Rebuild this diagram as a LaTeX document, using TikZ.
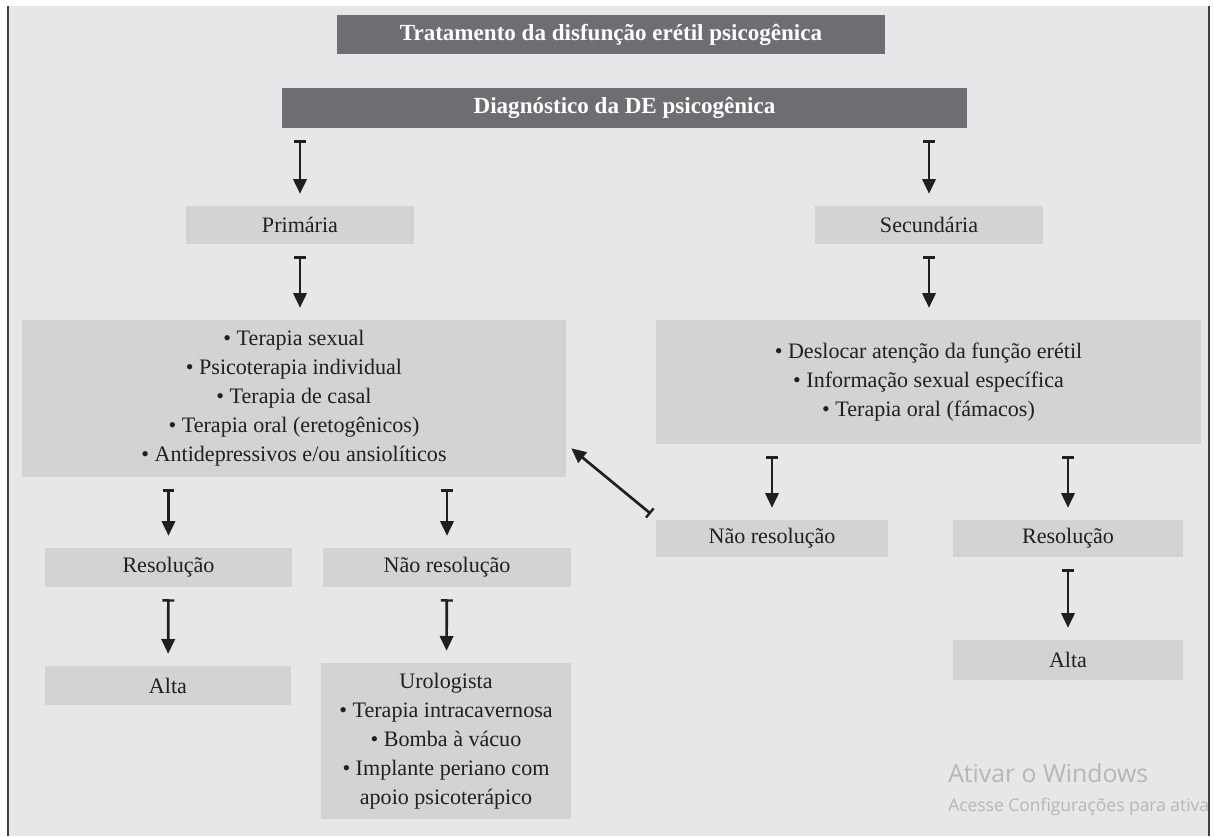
\documentclass[tikz,border=0pt]{standalone}
\usepackage{fontspec}
\setmainfont{Liberation Serif}
\newfontfamily\winfont{Open Sans}
\usetikzlibrary{arrows.meta}

\definecolor{fundo}{HTML}{E6E7E8}
\definecolor{caixa}{HTML}{D1D3D4}
\definecolor{escuro}{HTML}{6D6E71}
\definecolor{texto}{HTML}{231F20}
\definecolor{marca}{HTML}{B5B6B8}

\tikzset{
    caixa/.style={fill=caixa, text=texto, inner sep=0pt, align=center,
        font=\fontsize{15.7}{20.6}\selectfont},
    titulo/.style={fill=escuro, text=white, inner sep=0pt,
        font=\fontsize{16.4}{18}\selectfont\bfseries},
    seta/.style={line width=1.9pt, draw=texto,
        {Bar[width=8.5pt, line width=1.7pt]}-{Triangle[length=10.5pt, width=9.5pt]},
        shorten <=8.5pt, shorten >=8.5pt}
}

\begin{document}
\begin{tikzpicture}[x=0.025cm, y=-0.025cm]
    \def\pu{0.025cm}

    % Frame
    \useasboundingbox (0,0) rectangle (1214,836);
    \fill[white] (0,0) rectangle (1214,836);
    \fill[fundo] (9,6) rectangle (1208,836);
    \draw[line width=2.5*\pu, black!75] (8,6) -- (8,836);
    \draw[line width=2*\pu, black!75] (1209,6) -- (1209,836);

    % Headers
    \node[titulo, minimum width=548*\pu, minimum height=39*\pu] (trat) at (611,34.5)
        {Tratamento da disfunção erétil psicogênica};
    \node[titulo, minimum width=685*\pu, minimum height=40*\pu] (diag) at (624.5,108)
        {Diagnóstico da DE psicogênica};

    % Primary branch
    \node[caixa, minimum width=228*\pu, minimum height=38*\pu] (prim) at (300,225) {Primária};
    \node[caixa, minimum width=544*\pu, minimum height=157*\pu] (terap1) at (294,398.5)
        {\textbullet\ Terapia sexual\\
         \textbullet\ Psicoterapia individual\\
         \textbullet\ Terapia de casal\\
         \textbullet\ Terapia oral (eretogênicos)\\
         \textbullet\ Antidepressivos e/ou ansiolíticos};
    \node[caixa, minimum width=247*\pu, minimum height=39*\pu] (resol1) at (168.5,567.5) {Resolução};
    \node[caixa, minimum width=248*\pu, minimum height=39*\pu] (naores1) at (447,567.5) {Não resolução};
    \node[caixa, minimum width=246*\pu, minimum height=39*\pu] (alta1) at (168,685.5) {Alta};
    \node[caixa, minimum width=250*\pu, minimum height=156*\pu] (urol) at (446,741)
        {Urologista\\
         \textbullet\ Terapia intracavernosa\\
         \textbullet\ Bomba à vácuo\\
         \textbullet\ Implante periano com\\
         apoio psicoterápico};

    % Secondary branch
    \node[caixa, minimum width=228*\pu, minimum height=38*\pu] (secu) at (929,225) {Secundária};
    \node[caixa, minimum width=545*\pu, minimum height=124*\pu] (terap2) at (928.5,382)
        {\textbullet\ Deslocar atenção da função erétil\\
         \textbullet\ Informação sexual específica\\
         \textbullet\ Terapia oral (fámacos)};
    \node[caixa, minimum width=232*\pu, minimum height=37*\pu] (naores2) at (772,538.5) {Não resolução};
    \node[caixa, minimum width=230*\pu, minimum height=37*\pu] (resol2) at (1068,538.5) {Resolução};
    \node[caixa, minimum width=230*\pu, minimum height=40*\pu] (alta2) at (1068,660) {Alta};

    % Arrows
    \draw[seta] (diag.south -| prim) -- (prim);
    \draw[seta] (diag.south -| secu) -- (secu);
    \draw[seta] (prim) -- (prim |- terap1.north);
    \draw[seta] (secu) -- (secu |- terap2.north);
    \draw[seta] (terap1.south -| resol1) -- (resol1);
    \draw[seta] (terap1.south -| naores1) -- (naores1);
    \draw[seta] (resol1) -- (alta1);
    \draw[seta] (naores1) -- (urol);
    \draw[seta] (terap2.south -| naores2) -- (naores2);
    \draw[seta] (terap2.south -| resol2) -- (resol2);
    \draw[seta] (resol2) -- (alta2);
    \draw[seta, shorten <=0pt, shorten >=0pt]
        ([shift={(-5,-6)}]naores2.north west) -- ([shift={(5,-29)}]terap1.south east);

    % Watermark
    \begin{scope}
        \clip (9,6) rectangle (1208,836);
        \node[anchor=base west, inner sep=0pt, text=marca, font=\winfont\fontsize{17.6}{20}\selectfont]
            (ativar) at (948,782) {Ativar o Windows};
        \node[anchor=base west, inner sep=0pt, text=marca, font=\winfont\fontsize{12.4}{14}\selectfont]
            (acesse) at (948,811) {Acesse Configurações para ativar};
    \end{scope}
\end{tikzpicture}
\end{document}
